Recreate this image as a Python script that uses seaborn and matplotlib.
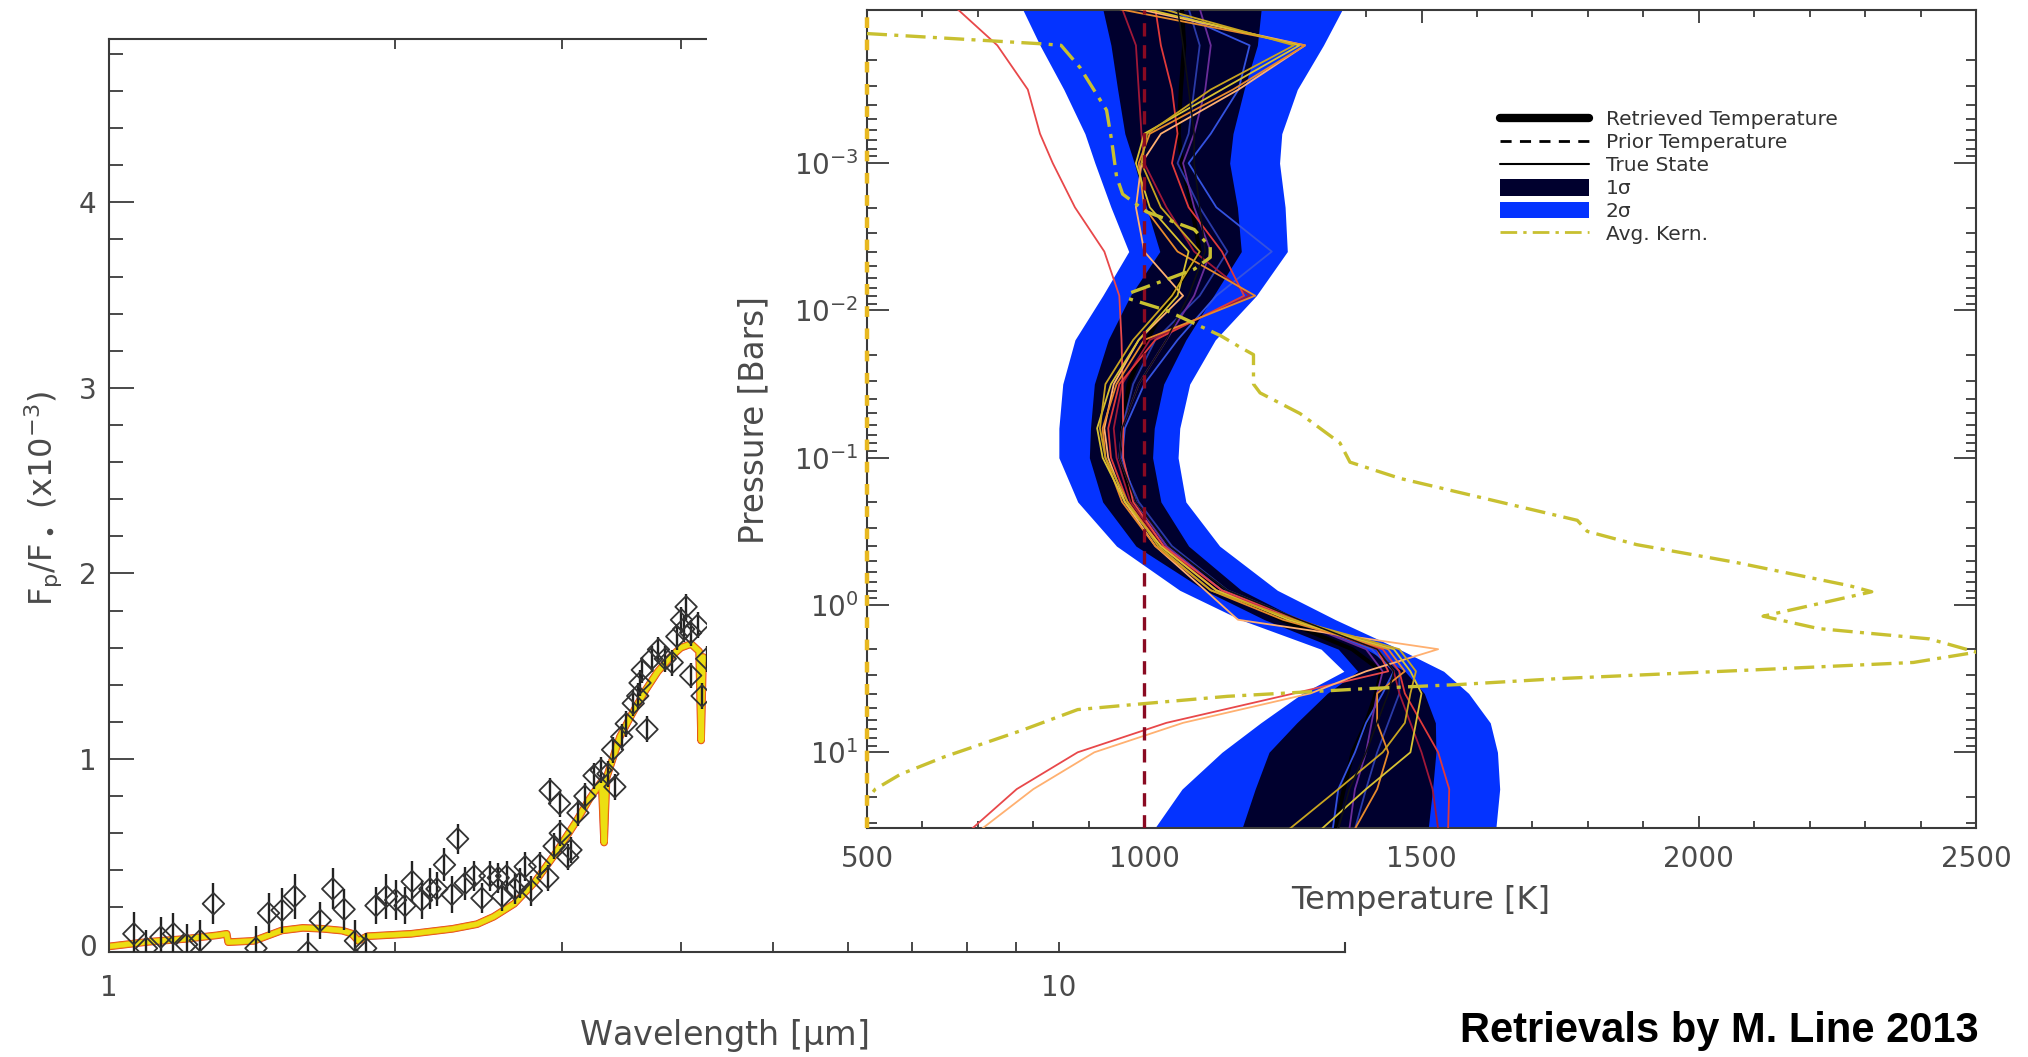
import numpy as np
import matplotlib
matplotlib.use("Agg")
import matplotlib.pyplot as plt
from matplotlib.lines import Line2D
from matplotlib.patches import Patch
from matplotlib.ticker import (FixedLocator, FixedFormatter, NullFormatter, MultipleLocator,
                               LogLocator, LogFormatterSciNotation)
import seaborn as sns

# ---------------- emission spectrum (left panel) ----------------
lam_obs = [1.062, 1.095, 1.134, 1.169, 1.207, 1.247, 1.288, 1.428, 1.472, 1.521,
           1.568, 1.619, 1.669, 1.720, 1.768, 1.817, 1.863, 1.910, 1.959, 2.003,
           2.049, 2.085, 2.133, 2.177, 2.214, 2.255, 2.296, 2.328, 2.371, 2.424,
           2.469, 2.518, 2.569, 2.594, 2.621, 2.674, 2.706, 2.742, 2.784, 2.840,
           2.897, 2.941, 2.985, 3.040, 2.913, 2.980, 3.064, 3.116, 3.169, 3.240,
           3.295, 3.351, 3.408, 3.389, 3.465, 3.503, 3.563, 3.602, 3.622, 3.684,
           3.642, 3.725, 3.788, 3.851, 3.916, 3.960, 4.027, 4.050, 4.005, 4.095,
           4.164, 4.095, 4.210, 4.257]
fp_obs = [0.058, -0.02, 0.04, 0.058, 0.0, 0.022, 0.22, -0.02, 0.17, 0.185,
          0.26, -0.04, 0.13, 0.30, 0.19, 0.02, -0.02, 0.21, 0.26, 0.24,
          0.21, 0.34, 0.24, 0.30, 0.30, 0.43, 0.27, 0.57, 0.33, 0.37,
          0.25, 0.37, 0.36, 0.26, 0.37, 0.30, 0.33, 0.42, 0.29, 0.43,
          0.36, 0.53, 0.60, 0.47, 0.83, 0.76, 0.51, 0.71, 0.80, 0.91,
          0.94, 0.92, 0.85, 1.05, 1.12, 1.19, 1.30, 1.34, 1.41, 1.16,
          1.48, 1.54, 1.59, 1.54, 1.52, 1.66, 1.70, 1.82, 1.75, 1.68,
          1.72, 1.45, 1.34, 1.54]
fp_err = [0.12, 0.10, 0.11, 0.11, 0.11, 0.11, 0.11, 0.12, 0.11, 0.12,
          0.12, 0.10, 0.10, 0.11, 0.11, 0.11, 0.08, 0.10, 0.12, 0.11,
          0.10, 0.11, 0.10, 0.11, 0.09, 0.09, 0.10, 0.08, 0.09, 0.08,
          0.08, 0.08, 0.08, 0.08, 0.08, 0.08, 0.08, 0.08, 0.08, 0.07,
          0.07, 0.07, 0.07, 0.07, 0.07, 0.07, 0.07, 0.07, 0.07, 0.07,
          0.07, 0.07, 0.07, 0.07, 0.07, 0.07, 0.07, 0.07, 0.07, 0.07,
          0.07, 0.07, 0.07, 0.07, 0.07, 0.07, 0.07, 0.07, 0.07, 0.07,
          0.07, 0.07, 0.07, 0.07]

lam_model = [1.00, 1.10, 1.20, 1.30, 1.33, 1.335, 1.42, 1.52, 1.60, 1.68,
             1.76, 1.80, 1.83, 1.87, 1.95, 2.08, 2.30, 2.44, 2.54, 2.67,
             2.81, 2.95, 3.10, 3.20, 3.30, 3.32, 3.34, 3.45, 3.55, 3.67,
             3.78, 3.90, 4.00, 4.10, 4.18, 4.20, 4.22, 4.30]
fp_model = [-0.01, 0.015, 0.03, 0.05, 0.058, 0.013, 0.02, 0.076, 0.09, 0.085,
            0.075, 0.06, 0.02, 0.045, 0.05, 0.058, 0.085, 0.11, 0.15, 0.22,
            0.34, 0.49, 0.66, 0.78, 0.88, 0.55, 0.90, 1.12, 1.24, 1.37,
            1.47, 1.55, 1.60, 1.62, 1.58, 1.10, 1.55, 1.52]

# ---------------- temperature-pressure retrieval (right panel) ----------------
log_p = [-4.05, -3.8, -3.5, -3.2, -3.0, -2.7, -2.4, -2.1, -1.8, -1.5, -1.2, -1.0,
         -0.7, -0.4, -0.1, 0.1, 0.3, 0.45, 0.6, 0.8, 1.0, 1.25, 1.52]

t_2sig_lo = [780, 812, 855, 893, 911, 940, 972, 925, 875, 853, 846, 846,
             880, 950, 1064, 1174, 1319, 1360, 1285, 1210, 1140, 1068, 1018]
t_2sig_hi = [1358, 1323, 1276, 1248, 1244, 1254, 1258, 1202, 1128, 1082, 1064, 1061,
             1075, 1136, 1240, 1345, 1460, 1540, 1585, 1624, 1637, 1641, 1634]
t_1sig_lo = [925, 940, 952, 965, 982, 1004, 1028, 975, 935, 910, 903, 901,
             925, 985, 1109, 1217, 1350, 1385, 1330, 1275, 1225, 1200, 1176]
t_1sig_hi = [1211, 1204, 1180, 1160, 1154, 1168, 1175, 1125, 1075, 1035, 1018, 1015,
             1030, 1080, 1175, 1280, 1400, 1470, 1505, 1525, 1526, 1520, 1512]
t_retrieved = [1068, 1072, 1066, 1062, 1068, 1086, 1100, 1050, 1005, 972, 960, 958,
               978, 1032, 1142, 1248, 1375, 1428, 1418, 1400, 1376, 1360, 1344]
t_true = [1060, 1070, 1080, 1090, 1090, 1100, 1110, 1080, 1040, 990, 960, 955,
          985, 1045, 1150, 1280, 1420, 1450, 1440, 1420, 1400, 1370, 1350]
t_prior = 1000

# individual retrieved profiles
prof_red_cold = [662, 735, 790, 812, 835, 875, 928, 955, 959, 961, 962, 962,
                 980, 1035, 1140, 1280, 1420, 1440, 1270, 1040, 880, 770, 689]
prof_peach = [985, 1290, 1170, 1030, 995, 985, 1000, 1070, 990, 945, 928, 935,
              965, 1020, 1110, 1169, 1530, 1400, 1300, 1070, 910, 800, 707]
prof_orange = [950, 1290, 1160, 1010, 990, 1000, 1060, 1200, 1000, 950, 925, 930,
               960, 1020, 1120, 1250, 1440, 1470, 1420, 1420, 1440, 1420, 1380]
prof_yellow = [1000, 1280, 1140, 1000, 985, 1010, 1080, 1060, 990, 940, 915, 925,
               965, 1030, 1130, 1260, 1450, 1480, 1500, 1490, 1480, 1400, 1320]
prof_gold = [1030, 1270, 1120, 1005, 995, 1030, 1100, 1050, 980, 930, 920, 930,
             970, 1025, 1120, 1270, 1460, 1490, 1480, 1470, 1430, 1350, 1262]
prof_navy = [1080, 1100, 1090, 1080, 1060, 1100, 1150, 1100, 1020, 980, 960, 955,
             990, 1050, 1150, 1280, 1420, 1460, 1460, 1440, 1420, 1400, 1380]
prof_blue = [1040, 1190, 1170, 1120, 1080, 1130, 1230, 1130, 1060, 1000, 965, 960,
             985, 1040, 1140, 1270, 1410, 1450, 1430, 1400, 1380, 1350, 1340]
prof_crimson = [960, 985, 990, 995, 1000, 1040, 1090, 1190, 1010, 960, 945, 950,
                975, 1035, 1130, 1270, 1420, 1450, 1460, 1480, 1500, 1520, 1530]
prof_red = [1020, 1030, 1050, 1060, 1050, 1080, 1140, 1180, 1020, 955, 935, 940,
            970, 1030, 1130, 1270, 1430, 1460, 1470, 1500, 1530, 1550, 1548]
prof_violet = [1100, 1120, 1110, 1090, 1070, 1090, 1120, 1090, 1040, 990, 960, 955,
               985, 1040, 1140, 1270, 1400, 1430, 1420, 1410, 1400, 1380, 1370]

# averaging kernel (plotted on the temperature scale)
kern_t = [500, 817, 850, 884, 932, 941, 950, 961, 1004, 1090, 1119, 1119, 1090, 1033,
          975, 972, 1040, 1137, 1173, 1197, 1197, 1209, 1281, 1353, 1371, 1461, 1781,
          1799, 1888, 2066, 2273, 2312, 2116, 2216, 2416, 2501, 2387, 2102, 1746, 1567,
          1389, 1150, 998, 880, 780, 640, 560, 515, 500]
kern_logp = [-3.88, -3.81, -3.80, -3.65, -3.36, -3.16, -2.91, -2.79, -2.67, -2.55, -2.43,
             -2.36, -2.28, -2.20, -2.12, -2.08, -2.00, -1.83, -1.75, -1.70, -1.50, -1.44,
             -1.30, -1.10, -0.97, -0.86, -0.575, -0.50, -0.41, -0.29, -0.13, -0.09, 0.076,
             0.16, 0.23, 0.32, 0.39, 0.44, 0.50, 0.54, 0.57, 0.62, 0.67, 0.71, 0.85, 1.03,
             1.15, 1.25, 1.32]
kern_zero = 500
p_decades = [1e-3, 1e-2, 1e-1, 1e0, 1e1]

# ---------------- styling ----------------
sns.set_style("ticks")
plt.rcParams["font.family"] = ["DejaVu Sans"]
plt.rcParams["mathtext.default"] = "regular"
GRAY = "#4a4a4a"
SPINE = "#3a3a3a"

W, H = 2028, 1057
fig = plt.figure(figsize=(W / 100, H / 100), dpi=100, facecolor="white")


def box(x0, y0, x1, y1):
    return [x0 / W, 1 - y1 / H, (x1 - x0) / W, (y1 - y0) / H]


# ---------------- left panel: spectrum ----------------
ax1 = fig.add_axes(box(109, 39, 1345, 952))
ax1.errorbar(lam_obs, fp_obs, yerr=fp_err, fmt="none", ecolor="#222222",
             elinewidth=1.7, capsize=0, zorder=3)
sns.scatterplot(x=lam_obs, y=fp_obs, marker="D", s=120, ax=ax1, zorder=4, legend=False)
pts = ax1.collections[-1]
pts.set_facecolor("none")
pts.set_edgecolor("#333333")
pts.set_linewidth(1.3)

for col, lw in [("#e0301a", 5.5), ("#f08a10", 4.8), ("#ecdf12", 3.6)]:
    sns.lineplot(x=lam_model, y=fp_model, sort=False, estimator=None, color=col,
                 lw=lw, ax=ax1, zorder=2, legend=False)

ax1.set_xscale("log")
ax1.set_xlim(1, 20)
ax1.set_ylim(-0.04, 4.88)
ax1.xaxis.set_major_locator(FixedLocator([1, 10]))
ax1.xaxis.set_major_formatter(FixedFormatter(["1", "10"]))
ax1.xaxis.set_minor_locator(FixedLocator([2, 3, 4, 5, 6, 7, 8, 9, 20]))
ax1.xaxis.set_minor_formatter(NullFormatter())
ax1.yaxis.set_major_locator(MultipleLocator(1))
ax1.yaxis.set_minor_locator(MultipleLocator(0.2))
ax1.tick_params(axis="y", which="both", direction="in", left=True, right=False,
                colors=SPINE, labelcolor=GRAY, labelsize=20, pad=9, width=1.3)
ax1.tick_params(axis="y", which="major", length=18)
ax1.tick_params(axis="y", which="minor", length=10)
ax1.tick_params(axis="x", which="both", direction="in", top=True, bottom=True,
                length=7, width=1.3, colors=SPINE, labelcolor=GRAY, labelsize=20, pad=16)
for s in ax1.spines.values():
    s.set_color(SPINE)
    s.set_linewidth(1.5)
ax1.set_xlabel("")
ax1.set_ylabel("")

fig.text(724 / W, 1 - 1035 / H, r"Wavelength [$\mu$m]", ha="center", va="center",
         fontsize=24, color=GRAY)
fig.text(43 / W, 1 - 498 / H, r"F$_p$/F$_\bullet$ (x10$^{-3}$)", ha="center", va="center",
         rotation=90, fontsize=23, color=GRAY)

# white panel that holds the retrieval plot
cover = fig.add_axes(box(707, 0, 2028, 942))
cover.set_facecolor("white")
cover.set_xticks([])
cover.set_yticks([])
for s in cover.spines.values():
    s.set_visible(False)

# ---------------- right panel: T-P profile ----------------
ax2 = fig.add_axes(box(867, 10, 1976, 828))
ax2.set_facecolor("white")
P = 10.0 ** np.array(log_p)

ax2.fill_betweenx(P, t_2sig_lo, t_2sig_hi, color="#0433ff", lw=0, zorder=1)
ax2.fill_betweenx(P, t_1sig_lo, t_1sig_hi, color="#00002e", lw=0, zorder=2)
sns.lineplot(x=t_retrieved, y=P, sort=False, estimator=None, color="black", lw=3,
             ax=ax2, zorder=3, legend=False)

profiles = [
    (prof_navy, "#2a3aa8"), (prof_blue, "#3452e0"), (prof_violet, "#6a2c9a"),
    (prof_crimson, "#a01838"), (prof_red, "#e03a3a"), (prof_red_cold, "#e8484a"),
    (prof_peach, "#ffb070"), (prof_orange, "#e88a2c"), (prof_yellow, "#d8c232"),
    (prof_gold, "#c8a420"),
]
for temps, col in profiles:
    sns.lineplot(x=temps, y=P, sort=False, estimator=None, color=col, lw=1.3,
                 ax=ax2, zorder=4, legend=False)
sns.lineplot(x=t_true, y=P, sort=False, estimator=None, color="#111111", lw=1.1,
             ax=ax2, zorder=4, legend=False)

ax2.axvline(t_prior, color="#8a0a22", lw=2.4, linestyle=(0, (4, 2.6)), zorder=6)
ax2.axvline(kern_zero, color="#e8b820", lw=3.2, linestyle=(0, (2.4, 2.6)), zorder=7,
            clip_on=False)
sns.lineplot(x=kern_t, y=10.0 ** np.array(kern_logp), sort=False, estimator=None,
             color="#c8c030", lw=2.4, linestyle=(0, (6, 2.2, 1.2, 2.2)), ax=ax2,
             zorder=6, legend=False)

ax2.set_yscale("log")
ax2.set_xlim(500, 2500)
ax2.set_ylim(10 ** 1.514, 10 ** -4.04)
ax2.xaxis.set_major_locator(MultipleLocator(500))
ax2.xaxis.set_minor_locator(MultipleLocator(100))
ax2.yaxis.set_major_locator(FixedLocator(p_decades))
ax2.yaxis.set_major_formatter(LogFormatterSciNotation())
ax2.yaxis.set_minor_locator(LogLocator(base=10, subs=np.arange(2, 10), numticks=20))
ax2.yaxis.set_minor_formatter(NullFormatter())
ax2.tick_params(axis="both", which="both", direction="in", top=True, right=True,
                colors=SPINE, labelcolor=GRAY, labelsize=20, width=1.3)
ax2.tick_params(axis="y", which="major", length=16, pad=6)
ax2.tick_params(axis="y", which="minor", length=7)
ax2.tick_params(axis="x", which="major", length=9, pad=12)
ax2.tick_params(axis="x", which="minor", length=5)
for s in ax2.spines.values():
    s.set_color(SPINE)
    s.set_linewidth(1.5)
ax2.set_xlabel("")
ax2.set_ylabel("")

fig.text(1421 / W, 1 - 901 / H, "Temperature [K]", ha="center", va="center",
         fontsize=23, color=GRAY)
fig.text(754 / W, 1 - 420 / H, "Pressure [Bars]", ha="center", va="center",
         rotation=90, fontsize=23.5, color=GRAY)

handles = [
    Line2D([], [], color="black", lw=6),
    Line2D([], [], color="black", lw=2, linestyle=(0, (4, 3))),
    Line2D([], [], color="black", lw=1.5),
    Patch(facecolor="#00002e", edgecolor="none"),
    Patch(facecolor="#0433ff", edgecolor="none"),
    Line2D([], [], color="#c8c030", lw=2, linestyle=(0, (6, 2.2, 1.2, 2.2))),
]
labels = ["Retrieved Temperature", "Prior Temperature", "True State",
          "1\u03c3", "2\u03c3", "Avg. Kern."]
leg = ax2.legend(handles, labels, loc="upper left", bbox_to_anchor=(1500 / W, 1 - 110 / H),
                 bbox_transform=fig.transFigure, frameon=False, fontsize=14.5,
                 handlelength=4.4, handletextpad=0.85, labelspacing=0.18,
                 borderpad=0, borderaxespad=0, handleheight=0.9)
for t in leg.get_texts():
    t.set_color("#333333")

fig.text(1979 / W, 1 - 1031 / H, "Retrievals by M. Line 2013", ha="right", va="center",
         fontsize=30, fontweight="bold", family="Liberation Sans", color="black")

fig.savefig("out.png", dpi=100, facecolor="white")
